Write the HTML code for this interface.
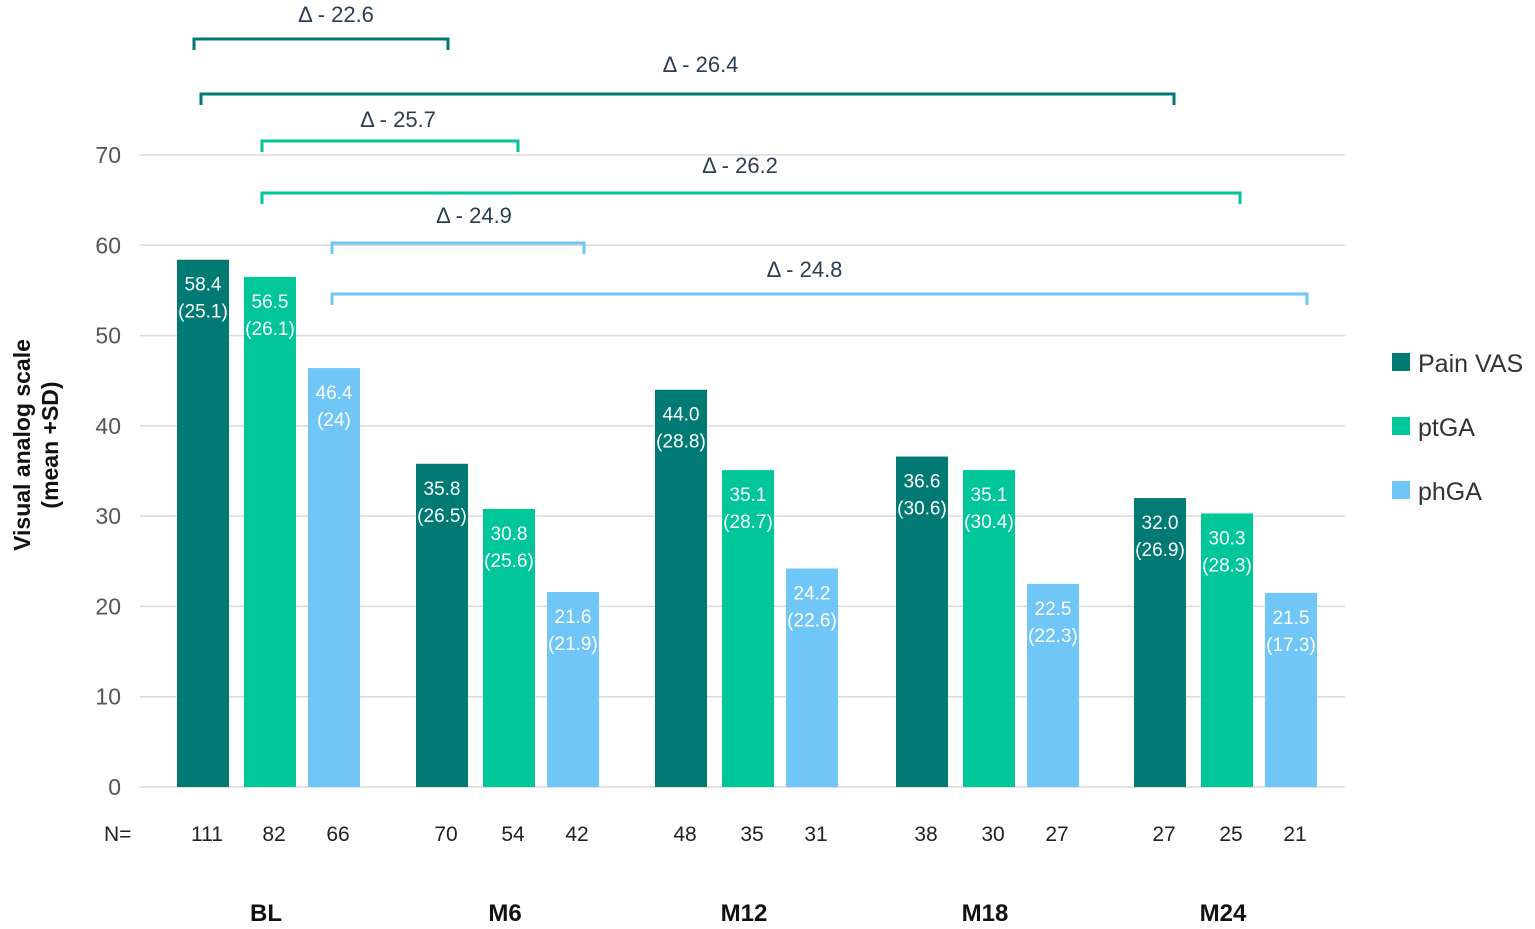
<!DOCTYPE html>
<html><head><meta charset="utf-8">
<style>
body{margin:0;background:#fff;}
svg{display:block;font-family:"Liberation Sans",Arial,sans-serif;}
</style></head>
<body>
<svg id="chart" width="1535" height="929" viewBox="0 0 1535 929" xmlns="http://www.w3.org/2000/svg">
<g id="grid"></g>
<g id="bars"></g>
<g id="brackets"></g>
<g id="labels"></g>
<text transform="translate(34,445) rotate(-90)" text-anchor="middle" font-size="23" font-weight="bold" fill="#111"><tspan x="0" dy="-4">Visual analog scale</tspan><tspan x="0" dy="28">(mean +SD)</tspan></text>
<g>
<rect x="1392" y="353" width="18" height="18" fill="#007a73"/>
<text x="1418" y="372" font-size="25" fill="#333">Pain VAS</text>
<rect x="1392" y="417" width="18" height="18" fill="#00c69a"/>
<text x="1418" y="436" font-size="25" fill="#333">ptGA</text>
<rect x="1392" y="481" width="18" height="18" fill="#6fc6f7"/>
<text x="1418" y="500" font-size="25" fill="#333">phGA</text>
</g>
</svg>
<script>
const groups=["BL","M6","M12","M18","M24"];
const series=["Pain VAS","ptGA","phGA"];
const painVals=[58.4,35.8,44.0,36.6,32.0];
const ptgaVals=[56.5,30.8,35.1,35.1,30.3];
const phgaVals=[46.4,21.6,24.2,22.5,21.5];
const painSD=["25.1","26.5","28.8","30.6","26.9"];
const ptgaSD=["26.1","25.6","28.7","30.4","28.3"];
const phgaSD=["24","21.9","22.6","22.3","17.3"];
const painN=[111,70,48,38,27];
const ptgaN=[82,54,35,30,25];
const phgaN=[66,42,31,27,21];
const yTicks=[0,10,20,30,40,50,60,70];
const deltaLabels=["Δ - 22.6","Δ - 26.4","Δ - 25.7","Δ - 26.2","Δ - 24.9","Δ - 24.8"];
const deltaSeries=[0,0,1,1,2,2];
const deltaToGroup=[1,4,1,4,1,4];

const NS="http://www.w3.org/2000/svg";
const colors=["#007a73","#00c69a","#6fc6f7"];
const y=v=>787-v*(632/70);
const groupX=[177,416,655,896,1134];
const offs=[0,67,131];
const bw=52;
const bx=(g,s)=>groupX[g]+offs[s];
function mk(tag,attrs,parent,text){const e=document.createElementNS(NS,tag);for(const k in attrs)e.setAttribute(k,attrs[k]);if(text!==undefined)e.textContent=text;parent.appendChild(e);return e;}
const grid=document.getElementById('grid'),bars=document.getElementById('bars'),br=document.getElementById('brackets'),lab=document.getElementById('labels');
yTicks.forEach(t=>{
  const l=mk('line',{x1:140,x2:1345,y1:y(t),y2:y(t),stroke:'#d9d9d9','stroke-width':1.5},grid);
  
  
  const tx=mk('text',{x:121,y:y(t)+8,'text-anchor':'end','font-size':23,fill:'#555'},lab,String(t));
  
  
});
const vals=[painVals,ptgaVals,phgaVals],sds=[painSD,ptgaSD,phgaSD],ns=[painN,ptgaN,phgaN];
groups.forEach((g,gi)=>{
  series.forEach((s,si)=>{
    const v=vals[si][gi],x=bx(gi,si);
    const r=mk('rect',{x:x,y:y(v),width:bw,height:787-y(v),fill:colors[si]},bars);
    
    
    const t1=mk('text',{x:x+bw/2,y:y(v)+31,'text-anchor':'middle','font-size':19,fill:'#fff'},bars,v.toFixed(1));
    
    
    const t2=mk('text',{x:x+bw/2,y:y(v)+58,'text-anchor':'middle','font-size':19,fill:'#fff'},bars,'('+sds[si][gi]+')');
    
    
    const nt=mk('text',{x:x+bw/2+4,y:841,'text-anchor':'middle','font-size':21,fill:'#222'},lab,String(ns[si][gi]));
    
    
  });
  const gl=mk('text',{x:bx(gi,1)+bw/2-4,y:921,'text-anchor':'middle','font-size':24,'font-weight':'bold',fill:'#111'},lab,g);
  
  
});
const nl=mk('text',{x:104,y:841,'font-size':21,fill:'#222'},lab,'N=');


const bracketY=[39,94,141,193,243,294];
const bracketStart=[194,201,262,262,332,332];
const endOffset=[6,14,9,13,11,16];
const labelY=[22,72,127,173,223,277];
const labelShift=[15,13,8,-11,16,-15];
deltaLabels.forEach((d,i)=>{
  const s=deltaSeries[i],g=deltaToGroup[i];
  const x1=bracketStart[i],x2=bx(g,s)+bw/2+endOffset[i];
  const yy=bracketY[i],c=s===0?'#007a73':(s===1?'#00c69a':'#6fc6f7');
  const p=mk('path',{d:`M${x1},${yy+11}V${yy}H${x2}V${yy+11}`,fill:'none',stroke:c,'stroke-width':3},br);
  
  
  const t=mk('text',{x:(x1+x2)/2+labelShift[i],y:labelY[i],'text-anchor':'middle','font-size':22,fill:'#2b3d55'},br,d);
  
  
});
</script>
</body></html>
